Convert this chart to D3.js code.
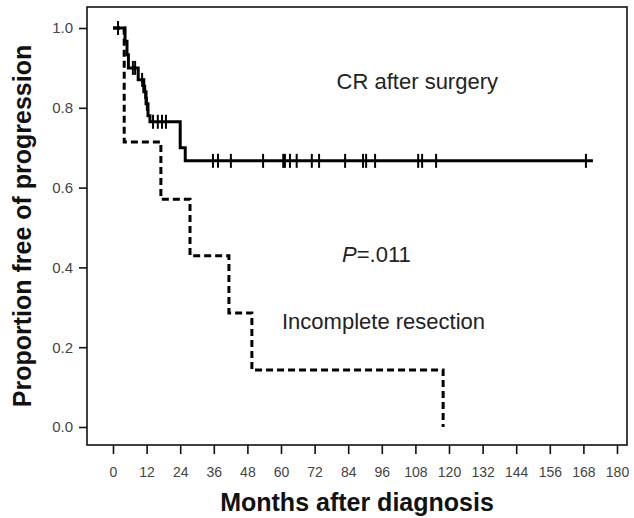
<!DOCTYPE html>
<html>
<head>
<meta charset="utf-8">
<script src="https://cdn.jsdelivr.net/npm/d3@7"></script>
<style>
  html, body { margin: 0; padding: 0; background: #fff; }
  svg { display: block; font-family: "Liberation Sans", Arial, sans-serif; }
</style>
</head>
<body>
<div id="chart"></div>
<script>
(function () {
  "use strict";

  // CR after surgery (solid): event times (months) and survival after each drop
  var crTimes = [4.3, 5.0, 5.5, 9.0, 11.0, 11.8, 12.5, 13.2, 24.0, 25.8];
  var crSurv = [0.967, 0.933, 0.90, 0.87, 0.84, 0.81, 0.78, 0.765, 0.70, 0.667];
  var crEnd = 171.4;
  var crCensored = [1.8, 7.1, 7.9, 10.4, 11.5, 12.1, 14.3, 16.0, 17.5, 18.9,
    35.7, 37.5, 42.1, 53.6, 60.8, 61.4, 63.2, 65.6, 71.0, 73.6, 82.9, 89.3, 90.4,
    93.6, 109.0, 110.4, 115.4, 168.9];

  // Incomplete resection (dashed)
  var irTimes = [4.0, 17.1, 27.5, 41.4, 49.6, 117.9];
  var irSurv = [0.714, 0.571, 0.429, 0.286, 0.143, 0.0];

  var xTicks = [0, 12, 24, 36, 48, 60, 72, 84, 96, 108, 120, 132, 144, 156, 168, 180];
  var yTicks = [0, 0.2, 0.4, 0.6, 0.8, 1.0];

  var W = 634, H = 518;
  var box = { left: 87, top: 7, right: 627, bottom: 445 };

  var x = d3.scaleLinear().domain([0, 180]).range([113, 617]);
  var y = d3.scaleLinear().domain([0, 1]).range([427, 28]);

  function stepPoints(times, surv, end) {
    var pts = [[0, 1]];
    var prev = 1;
    times.forEach(function (t, i) {
      pts.push([t, prev]);
      pts.push([t, surv[i]]);
      prev = surv[i];
    });
    if (end != null) pts.push([end, prev]);
    return pts;
  }

  function survAt(t) {
    var s = 1;
    crTimes.forEach(function (ti, i) { if (ti <= t) s = crSurv[i]; });
    return s;
  }

  var svg = d3.select("#chart").append("svg")
    .attr("width", W).attr("height", H)
    .attr("viewBox", [0, 0, W, H]);

  // frame
  svg.append("rect")
    .attr("x", box.left).attr("y", box.top)
    .attr("width", box.right - box.left).attr("height", box.bottom - box.top)
    .attr("fill", "none").attr("stroke", "#111").attr("stroke-width", 1.6);

  // y axis
  var yAxis = svg.append("g")
    .attr("transform", "translate(" + box.left + ",0)")
    .call(d3.axisLeft(y).tickValues(yTicks).tickFormat(d3.format(".1f")).tickSize(8).tickPadding(6));
  yAxis.select(".domain").remove();
  yAxis.selectAll("line").attr("stroke", "#111").attr("stroke-width", 1.6);
  yAxis.selectAll("text").attr("font-size", 15).attr("fill", "#444")
    .attr("font-family", "Liberation Sans, Arial, sans-serif");

  // x axis
  var xAxis = svg.append("g")
    .attr("transform", "translate(0," + box.bottom + ")")
    .call(d3.axisBottom(x).tickValues(xTicks).tickSize(9).tickPadding(13));
  xAxis.select(".domain").remove();
  xAxis.selectAll("line").attr("stroke", "#111").attr("stroke-width", 1.6);
  xAxis.selectAll("text").attr("font-size", 14).attr("fill", "#444")
    .attr("font-family", "Liberation Sans, Arial, sans-serif");

  var line = d3.line().x(function (d) { return x(d[0]); }).y(function (d) { return y(d[1]); });

  // dashed curve
  svg.append("path")
    .attr("d", line(stepPoints(irTimes, irSurv, null)))
    .attr("fill", "none").attr("stroke", "#000").attr("stroke-width", 3)
    .attr("stroke-dasharray", "7,4");

  // solid curve
  svg.append("path")
    .attr("d", line(stepPoints(crTimes, crSurv, crEnd)))
    .attr("fill", "none").attr("stroke", "#000").attr("stroke-width", 3);

  // censor marks
  svg.append("g").selectAll("line")
    .data(crCensored)
    .join("line")
    .attr("x1", function (d) { return x(d); })
    .attr("x2", function (d) { return x(d); })
    .attr("y1", function (d) { return y(survAt(d)) - 7; })
    .attr("y2", function (d) { return y(survAt(d)) + 7; })
    .attr("stroke", "#000").attr("stroke-width", 2);

  // annotations
  svg.append("text").attr("x", 498).attr("y", 89).attr("text-anchor", "end")
    .attr("font-size", 22).attr("fill", "#222").text("CR after surgery");

  var p = svg.append("text").attr("x", 342).attr("y", 262)
    .attr("font-size", 22).attr("fill", "#222");
  p.append("tspan").attr("font-style", "italic").text("P");
  p.append("tspan").text("=.011");

  svg.append("text").attr("x", 282).attr("y", 329)
    .attr("font-size", 22).attr("fill", "#222").text("Incomplete resection");

  // axis titles
  svg.append("text")
    .attr("x", (box.left + box.right) / 2).attr("y", 511)
    .attr("text-anchor", "middle").attr("font-size", 25).attr("font-weight", "bold")
    .attr("fill", "#111").text("Months after diagnosis");

  svg.append("text")
    .attr("transform", "translate(31," + ((box.top + box.bottom) / 2) + ") rotate(-90)")
    .attr("text-anchor", "middle").attr("font-size", 25).attr("font-weight", "bold")
    .attr("fill", "#111").text("Proportion free of progression");
})();
</script>
</body>
</html>
